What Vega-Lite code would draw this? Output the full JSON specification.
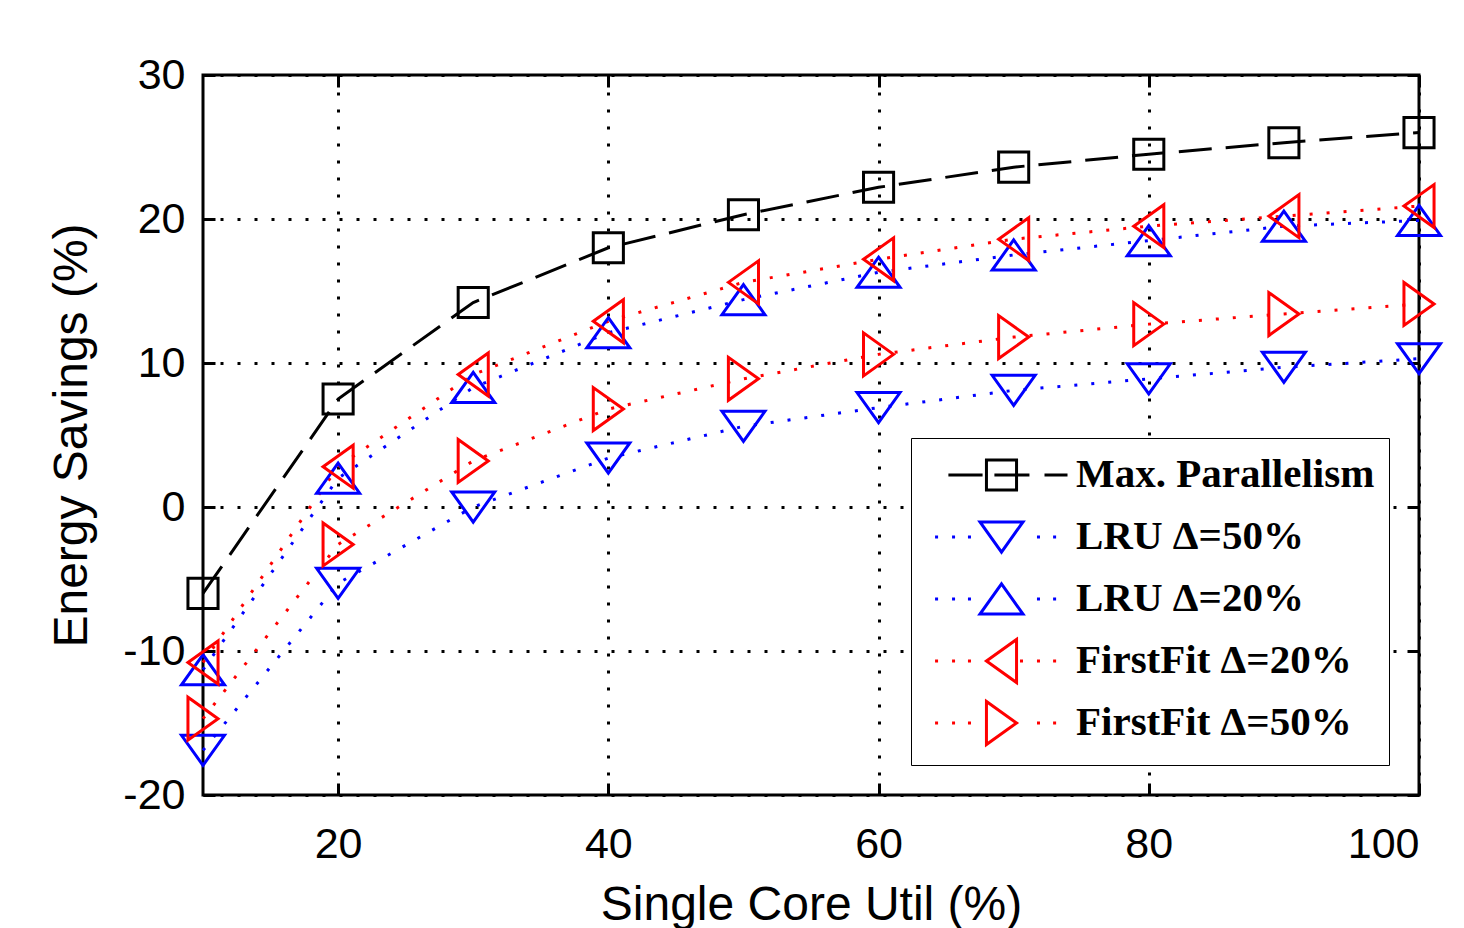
{
  "$schema": "https://vega.github.io/schema/vega-lite/v6.json",
  "width": 1216,
  "height": 720,
  "autosize": {"type": "none"},
  "padding": {"left": 203, "top": 75, "right": 45, "bottom": 133},
  "background": "white",
  "config": {
    "view": {"stroke": "black", "strokeWidth": 3},
    "axis": {
      "domain": false,
      "tickColor": "black",
      "tickWidth": 3,
      "tickSize": -12,
      "labelFont": "Liberation Sans",
      "labelFontSize": 43,
      "labelColor": "black",
      "titleFont": "Liberation Sans",
      "titleFontSize": 48,
      "titleFontWeight": "normal",
      "titleColor": "black",
      "gridColor": "black",
      "gridDash": [3, 14],
      "gridWidth": 3,
      "gridOpacity": 1
    }
  },
  "data": {
    "values": [
      {"series": "Max. Parallelism", "util": 10, "savings": -6.0},
      {"series": "Max. Parallelism", "util": 20, "savings": 7.5},
      {"series": "Max. Parallelism", "util": 30, "savings": 14.2},
      {"series": "Max. Parallelism", "util": 40, "savings": 18.0},
      {"series": "Max. Parallelism", "util": 50, "savings": 20.3},
      {"series": "Max. Parallelism", "util": 60, "savings": 22.2},
      {"series": "Max. Parallelism", "util": 70, "savings": 23.6},
      {"series": "Max. Parallelism", "util": 80, "savings": 24.5},
      {"series": "Max. Parallelism", "util": 90, "savings": 25.3},
      {"series": "Max. Parallelism", "util": 100, "savings": 26.0},
      {"series": "LRU Δ=50%", "util": 10, "savings": -16.9},
      {"series": "LRU Δ=50%", "util": 20, "savings": -5.3},
      {"series": "LRU Δ=50%", "util": 30, "savings": 0.0},
      {"series": "LRU Δ=50%", "util": 40, "savings": 3.4},
      {"series": "LRU Δ=50%", "util": 50, "savings": 5.6},
      {"series": "LRU Δ=50%", "util": 60, "savings": 6.9},
      {"series": "LRU Δ=50%", "util": 70, "savings": 8.1},
      {"series": "LRU Δ=50%", "util": 80, "savings": 8.9},
      {"series": "LRU Δ=50%", "util": 90, "savings": 9.7},
      {"series": "LRU Δ=50%", "util": 100, "savings": 10.3},
      {"series": "LRU Δ=20%", "util": 10, "savings": -11.3},
      {"series": "LRU Δ=20%", "util": 20, "savings": 2.0},
      {"series": "LRU Δ=20%", "util": 30, "savings": 8.3},
      {"series": "LRU Δ=20%", "util": 40, "savings": 12.1},
      {"series": "LRU Δ=20%", "util": 50, "savings": 14.4},
      {"series": "LRU Δ=20%", "util": 60, "savings": 16.3},
      {"series": "LRU Δ=20%", "util": 70, "savings": 17.5},
      {"series": "LRU Δ=20%", "util": 80, "savings": 18.5},
      {"series": "LRU Δ=20%", "util": 90, "savings": 19.5},
      {"series": "LRU Δ=20%", "util": 100, "savings": 19.9},
      {"series": "FirstFit Δ=20%", "util": 10, "savings": -10.8},
      {"series": "FirstFit Δ=20%", "util": 20, "savings": 2.8},
      {"series": "FirstFit Δ=20%", "util": 30, "savings": 9.2},
      {"series": "FirstFit Δ=20%", "util": 40, "savings": 12.9},
      {"series": "FirstFit Δ=20%", "util": 50, "savings": 15.6},
      {"series": "FirstFit Δ=20%", "util": 60, "savings": 17.2},
      {"series": "FirstFit Δ=20%", "util": 70, "savings": 18.6},
      {"series": "FirstFit Δ=20%", "util": 80, "savings": 19.5},
      {"series": "FirstFit Δ=20%", "util": 90, "savings": 20.2},
      {"series": "FirstFit Δ=20%", "util": 100, "savings": 20.9},
      {"series": "FirstFit Δ=50%", "util": 10, "savings": -14.7},
      {"series": "FirstFit Δ=50%", "util": 20, "savings": -2.6},
      {"series": "FirstFit Δ=50%", "util": 30, "savings": 3.2},
      {"series": "FirstFit Δ=50%", "util": 40, "savings": 6.8},
      {"series": "FirstFit Δ=50%", "util": 50, "savings": 8.9},
      {"series": "FirstFit Δ=50%", "util": 60, "savings": 10.6},
      {"series": "FirstFit Δ=50%", "util": 70, "savings": 11.8},
      {"series": "FirstFit Δ=50%", "util": 80, "savings": 12.7},
      {"series": "FirstFit Δ=50%", "util": 90, "savings": 13.4},
      {"series": "FirstFit Δ=50%", "util": 100, "savings": 14.1}
    ]
  },
  "layer": [
    {
      "transform": [{"filter": "datum.series === 'Max. Parallelism'"}],
      "mark": {"type": "line", "strokeWidth": 3, "strokeDash": [33, 14], "color": "black"},
      "encoding": {
        "x": {"field": "util", "type": "quantitative", "scale": {"domain": [10, 100], "nice": false, "zero": false},
          "axis": {"values": [20, 40, 60, 80, 100], "title": "Single Core Util (%)", "grid": true, "labelPadding": 40, "titlePadding": 15, "labelExpr": "'' + datum.value"}},
        "y": {"field": "savings", "type": "quantitative", "scale": {"domain": [-20, 30], "nice": false, "zero": false},
          "axis": {"values": [-20, -10, 0, 10, 20, 30], "title": "Energy Savings (%)", "grid": true, "labelPadding": 30, "titlePadding": 26, "labelExpr": "'' + datum.value"}}
      }
    },
    {
      "transform": [{"filter": "indexof(datum.series, 'LRU') === 0"}],
      "mark": {"type": "line", "strokeWidth": 3, "strokeDash": [3, 14], "color": "blue"},
      "encoding": {
        "x": {"field": "util", "type": "quantitative", "axis": null},
        "y": {"field": "savings", "type": "quantitative", "axis": null},
        "detail": {"field": "series", "type": "nominal"}
      }
    },
    {
      "transform": [{"filter": "indexof(datum.series, 'FirstFit') === 0"}],
      "mark": {"type": "line", "strokeWidth": 3, "strokeDash": [3, 14], "color": "red"},
      "encoding": {
        "x": {"field": "util", "type": "quantitative", "axis": null},
        "y": {"field": "savings", "type": "quantitative", "axis": null},
        "detail": {"field": "series", "type": "nominal"}
      }
    },
    {
      "transform": [{"filter": "datum.series === 'Max. Parallelism'"}],
      "mark": {"type": "point", "filled": false, "size": 1849, "strokeWidth": 3, "opacity": 1, "color": "black", "shape": "M-0.7,-0.7H0.7V0.7H-0.7Z"},
      "encoding": {
        "x": {"field": "util", "type": "quantitative", "axis": null},
        "y": {"field": "savings", "type": "quantitative", "axis": null}
      }
    },
    {
      "transform": [{"filter": "datum.series === 'LRU Δ=50%'"}],
      "mark": {"type": "point", "filled": false, "size": 1849, "strokeWidth": 3, "opacity": 1, "color": "blue", "shape": "M-1,-0.7H1L0,0.7Z"},
      "encoding": {
        "x": {"field": "util", "type": "quantitative", "axis": null},
        "y": {"field": "savings", "type": "quantitative", "axis": null}
      }
    },
    {
      "transform": [{"filter": "datum.series === 'LRU Δ=20%'"}],
      "mark": {"type": "point", "filled": false, "size": 1849, "strokeWidth": 3, "opacity": 1, "color": "blue", "shape": "M0,-0.7L1,0.7H-1Z"},
      "encoding": {
        "x": {"field": "util", "type": "quantitative", "axis": null},
        "y": {"field": "savings", "type": "quantitative", "axis": null}
      }
    },
    {
      "transform": [{"filter": "datum.series === 'FirstFit Δ=20%'"}],
      "mark": {"type": "point", "filled": false, "size": 1849, "strokeWidth": 3, "opacity": 1, "color": "red", "shape": "M-0.7,0L0.7,-1V1Z"},
      "encoding": {
        "x": {"field": "util", "type": "quantitative", "axis": null},
        "y": {"field": "savings", "type": "quantitative", "axis": null}
      }
    },
    {
      "transform": [{"filter": "datum.series === 'FirstFit Δ=50%'"}],
      "mark": {"type": "point", "filled": false, "size": 1849, "strokeWidth": 3, "opacity": 1, "color": "red", "shape": "M0.7,0L-0.7,-1V1Z"},
      "encoding": {
        "x": {"field": "util", "type": "quantitative", "axis": null},
        "y": {"field": "savings", "type": "quantitative", "axis": null}
      }
    },
    {
      "mark": {"type": "point", "filled": false, "size": 1849, "strokeWidth": 3, "opacity": 0},
      "encoding": {
        "x": {"field": "util", "type": "quantitative", "axis": null},
        "y": {"field": "savings", "type": "quantitative", "axis": null},
        "color": {"field": "series", "type": "nominal",
          "scale": {"domain": ["Max. Parallelism", "LRU Δ=50%", "LRU Δ=20%", "FirstFit Δ=20%", "FirstFit Δ=50%"],
                    "range": ["black", "blue", "blue", "red", "red"]},
          "legend": {
            "title": null,
            "orient": "bottom-right",
            "offset": 30,
            "padding": 14,
            "rowPadding": 6,
            "symbolSize": 1849,
            "symbolStrokeWidth": 3,
            "symbolOpacity": 1,
            "symbolFillColor": "transparent",
            "symbolOffset": 53.5,
            "labelOffset": 51.5,
            "labelFont": "Liberation Serif",
            "labelFontSize": 41,
            "labelFontWeight": "bold",
            "labelColor": "black",
            "labelLimit": 600,
            "strokeColor": "black",
            "fillColor": "white"
          }},
        "shape": {"field": "series", "type": "nominal",
          "scale": {"domain": ["Max. Parallelism", "LRU Δ=50%", "LRU Δ=20%", "FirstFit Δ=20%", "FirstFit Δ=50%"],
                    "range": [
                      "M0,-1M0,1M-2.47,0H-0.88M-0.7,-0.7H0.7V0.7H-0.7ZM-0.33,0H1.3M2,0H3.07",
                      "M0,-1M0,1M-3.09,0H-2.95M-2.3,0H-2.16M-1.56,0H-1.42M-1,-0.7H1L0,0.7ZM1.65,0H1.79M2.4,0H2.54",
                      "M0,-1M0,1M-3.09,0H-2.95M-2.3,0H-2.16M-1.56,0H-1.42M0,-0.7L1,0.7H-1ZM1.65,0H1.79M2.4,0H2.54",
                      "M-3.09,0H-2.95M-2.3,0H-2.16M-1.56,0H-1.42M-0.7,0L0.7,-1V1ZM0.86,0H1.0M1.65,0H1.79M2.4,0H2.54",
                      "M-3.09,0H-2.95M-2.3,0H-2.16M-1.56,0H-1.42M-0.7,-1V1L0.7,0ZM1.65,0H1.79M2.4,0H2.54"
                    ]},
          "legend": {
            "title": null,
            "orient": "bottom-right",
            "offset": 30,
            "padding": 14,
            "rowPadding": 6,
            "symbolSize": 1849,
            "symbolStrokeWidth": 3,
            "symbolOpacity": 1,
            "symbolFillColor": "transparent",
            "symbolOffset": 53.5,
            "labelOffset": 51.5,
            "labelFont": "Liberation Serif",
            "labelFontSize": 41,
            "labelFontWeight": "bold",
            "labelColor": "black",
            "labelLimit": 600,
            "strokeColor": "black",
            "fillColor": "white"
          }}
      }
    },
    {
      "mark": {"type": "point", "opacity": 0},
      "encoding": {
        "x": {"field": "util", "type": "quantitative",
          "axis": {"orient": "top", "values": [20, 40, 60, 80, 100], "labels": false, "title": null, "grid": false}},
        "y": {"field": "savings", "type": "quantitative",
          "axis": {"orient": "right", "values": [-20, -10, 0, 10, 20, 30], "labels": false, "title": null, "grid": false}}
      }
    }
  ],
  "resolve": {"axis": {"x": "independent", "y": "independent"}}
}
